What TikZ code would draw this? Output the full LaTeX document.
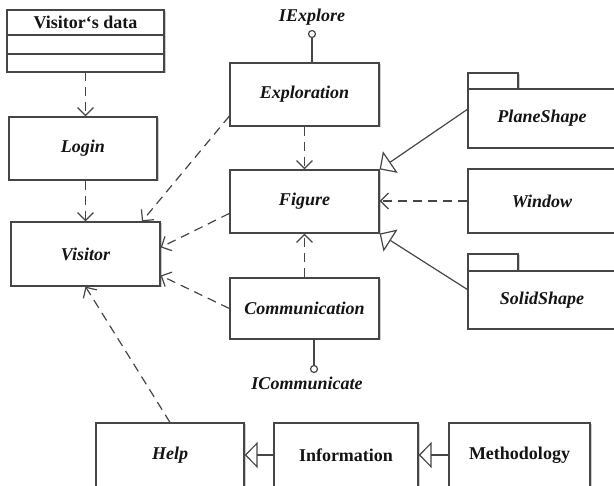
\documentclass[tikz,border=0pt]{standalone}
\usepackage{fontspec}
\setmainfont{Liberation Serif}
\usepackage{tikz}
\usetikzlibrary{positioning,arrows.meta,shadows}
\definecolor{colorline}{RGB}{70,70,70}
\definecolor{colortext}{RGB}{20,20,20}

\begin{document}
\begin{tikzpicture}[
    x=1pt, y=-1pt,
    font={\fontsize{18}{21}\selectfont\bfseries\itshape},
    base/.style={draw=colorline,line width=1.2pt,fill=white,text=colortext,inner sep=0pt,align=center,rectangle,
                 drop shadow={shadow xshift=1.5pt,shadow yshift=-1.5pt,fill=black!20,opacity=1}},
    cls/.style={base,minimum width=149pt,minimum height=63pt},
    plain/.style={base,font={\fontsize{18}{21}\selectfont\bfseries}},
    part/.style={base,outer sep=0pt,minimum width=157pt,drop shadow={opacity=0}},
    tab/.style={base,minimum width=50pt,drop shadow={opacity=0}},
    ball/.style={circle,draw=colorline,line width=1.2pt,fill=white,inner sep=0pt,minimum size=7pt},
    txt/.style={text=colortext,inner sep=0pt},
    dep/.style={draw=colorline,line width=1.2pt,dash pattern=on 9pt off 6pt,-{Straight Barb[length=8pt,width=16pt]}},
    gen/.style={draw=colorline,line width=1.2pt,-{Triangle[open,length=13pt,width=26pt]}},
]

    \useasboundingbox (0,0) rectangle (614,486);
    \clip (0,0) rectangle (614,486);

    % Nodes
    \node[part,plain,minimum height=25pt] (data) at (85.5,22.5) {Visitor‘s data};
    \node[part,minimum height=19pt,below=0pt of data]  (data2) {};
    \node[part,minimum height=18pt,below=0pt of data2] (data3) {};
    \node[cls,minimum width=148pt] (login)   at (83,148.5)  {Login};
    \node[cls,minimum height=64pt] (visitor) at (85.5,254)  {Visitor};

    \node[cls] (explore) at (304.5,94.5)  {Exploration};
    \node[cls] (figure)  at (304.5,201.5) {Figure};
    \node[cls,minimum height=61pt] (comm) at (304.5,308.5) {Communication};

    \node[tab,minimum height=16pt] (planetab) at (493,81) {};
    \node[cls,minimum width=148pt,minimum height=59pt] (plane) at (542,118.5) {PlaneShape};
    \node[cls,minimum width=148pt,minimum height=64pt] (window) at (542,201) {Window};
    \node[tab,minimum height=17pt] (solidtab) at (493,262.5) {};
    \node[cls,minimum width=148pt,minimum height=58pt] (solid) at (542,300) {SolidShape};

    \node[cls,minimum width=148pt,minimum height=64pt] (help) at (170,455) {Help};
    \node[cls,plain,minimum width=144pt,minimum height=64pt] (info) at (346,455) {Information};
    \node[cls,plain,minimum width=141pt,minimum height=64pt] (method) at (519.5,455) {Methodology};

    % Interfaces
    \node[ball] (iexplore) at (312,34)  {};
    \node[ball] (icomm)    at (314,369) {};
    \node[txt] at (312,17)  {IExplore};
    \node[txt] at (307,383) {ICommunicate};
    \draw[colorline,line width=1.2pt] (iexplore |- explore.north) -- (iexplore);
    \draw[colorline,line width=1.2pt] (icomm |- comm.south) -- (icomm);

    % Arrows
    \draw[dep] (data3.south) -- (data3.south |- login.north);
    \draw[dep] (data3.south |- login.south) -- (data3.south |- visitor.north);
    \draw[dep] (explore.south) -- (figure.north);
    \draw[dep] (comm.north) -- (figure.south);
    \draw[dep] (window.west) -- (window.west -| figure.east);
    \draw[dep] (explore.196) -- (visitor.30);
    \draw[dep] (figure.189) -- (visitor.5);
    \draw[dep] (comm.west) -- (visitor.344);
    \draw[dep] (help.north) -- (visitor.south);

    \draw[gen] (plane.173) -- (figure.north east);
    \draw[gen] (solid.172) -- (figure.south east);
    \draw[gen] (info.west) -- (help.east);
    \draw[gen] (method.west) -- (info.east);

\end{tikzpicture}
\end{document}
